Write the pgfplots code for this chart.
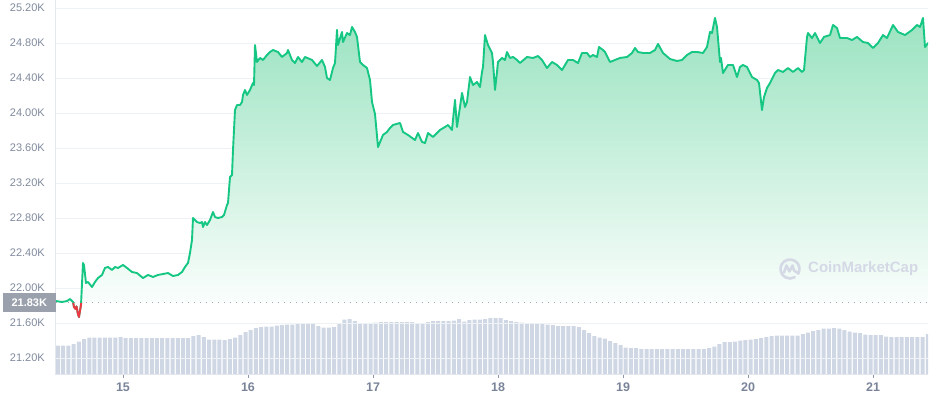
\documentclass[border=0pt]{standalone}
\usepackage{pgfplots}
\pgfplotsset{compat=1.18}
\usepackage{pgfplotstable}
\usepackage{fontspec}
\setmainfont{Liberation Sans}
\definecolor{cmcgreen}{HTML}{16C784}
\definecolor{cmcred}{HTML}{EA3943}
\definecolor{ticktext}{HTML}{808A9D}
\definecolor{xtickc}{HTML}{7A8499}
\definecolor{gridc}{HTML}{EFF2F5}
\definecolor{axisc}{HTML}{E3E6EC}
\definecolor{tickc}{HTML}{8D96A8}
\definecolor{volc}{HTML}{CFD6E4}
\definecolor{boxc}{HTML}{9AA0AC}
\definecolor{wm}{HTML}{D5D9E6}
\definecolor{dotc}{HTML}{A3A9B6}
\definecolor{fillc}{RGB}{155,227,193}

\pgfplotstableread{
x y
14.464 21.851
14.512 21.840
14.552 21.851
14.576 21.874
14.600 21.840
14.608 21.783
14.620 21.760
14.628 21.790
14.640 21.700
14.648 21.669
14.664 21.806
14.680 22.286
14.688 22.263
14.704 22.057
14.720 22.069
14.752 22.011
14.776 22.069
14.800 22.114
14.832 22.149
14.856 22.229
14.880 22.240
14.912 22.206
14.936 22.240
14.960 22.229
15.000 22.263
15.032 22.229
15.072 22.183
15.112 22.171
15.160 22.114
15.200 22.149
15.240 22.126
15.280 22.149
15.320 22.160
15.360 22.171
15.400 22.137
15.440 22.149
15.472 22.183
15.496 22.240
15.520 22.286
15.536 22.400
15.552 22.549
15.560 22.800
15.592 22.754
15.616 22.743
15.632 22.754
15.640 22.697
15.656 22.754
15.672 22.720
15.696 22.777
15.720 22.869
15.736 22.811
15.760 22.800
15.792 22.811
15.808 22.834
15.832 22.949
15.840 22.971
15.856 23.269
15.872 23.291
15.880 23.577
15.896 24.034
15.912 24.091
15.936 24.091
15.952 24.126
15.960 24.206
15.976 24.263
15.992 24.206
16.016 24.263
16.040 24.343
16.048 24.320
16.056 24.777
16.072 24.583
16.096 24.629
16.120 24.606
16.152 24.663
16.176 24.697
16.200 24.720
16.240 24.697
16.272 24.640
16.312 24.686
16.320 24.720
16.352 24.606
16.376 24.571
16.400 24.640
16.432 24.583
16.456 24.640
16.512 24.606
16.552 24.537
16.592 24.606
16.616 24.526
16.632 24.400
16.656 24.377
16.680 24.514
16.696 24.571
16.712 24.949
16.720 24.777
16.752 24.926
16.760 24.811
16.792 24.914
16.816 24.891
16.832 24.983
16.856 24.926
16.872 24.869
16.896 24.583
16.920 24.549
16.952 24.514
16.976 24.377
16.992 24.126
17.016 23.989
17.040 23.611
17.080 23.749
17.112 23.783
17.136 23.829
17.160 23.863
17.216 23.886
17.240 23.783
17.280 23.749
17.336 23.691
17.360 23.771
17.392 23.669
17.416 23.657
17.440 23.771
17.480 23.726
17.536 23.806
17.576 23.840
17.600 23.863
17.632 23.806
17.656 24.149
17.672 23.840
17.696 24.069
17.712 24.229
17.736 24.069
17.752 24.126
17.776 24.411
17.800 24.320
17.832 24.354
17.856 24.297
17.872 24.469
17.880 24.526
17.896 24.891
17.920 24.777
17.952 24.686
17.960 24.583
17.976 24.263
17.992 24.469
18.000 24.583
18.032 24.629
18.056 24.606
18.072 24.697
18.096 24.629
18.120 24.640
18.152 24.606
18.176 24.571
18.232 24.640
18.280 24.629
18.320 24.651
18.352 24.606
18.392 24.514
18.432 24.583
18.472 24.549
18.512 24.491
18.560 24.606
18.600 24.606
18.640 24.571
18.672 24.686
18.712 24.686
18.736 24.640
18.760 24.663
18.792 24.640
18.808 24.754
18.840 24.720
18.856 24.697
18.896 24.583
18.936 24.606
18.976 24.629
19.032 24.640
19.072 24.686
19.096 24.743
19.120 24.697
19.160 24.686
19.216 24.686
19.256 24.720
19.280 24.789
19.320 24.686
19.376 24.617
19.432 24.594
19.472 24.606
19.512 24.663
19.552 24.697
19.592 24.697
19.640 24.686
19.672 24.754
19.696 24.926
19.712 24.914
19.736 25.086
19.752 24.983
19.776 24.583
19.784 24.629
19.800 24.457
19.840 24.549
19.880 24.549
19.912 24.411
19.936 24.526
19.960 24.549
19.992 24.526
20.032 24.411
20.072 24.377
20.088 24.343
20.112 24.034
20.128 24.183
20.152 24.286
20.176 24.343
20.216 24.457
20.240 24.491
20.280 24.469
20.320 24.514
20.360 24.469
20.400 24.514
20.432 24.469
20.448 24.491
20.472 24.869
20.480 24.914
20.512 24.857
20.536 24.914
20.576 24.800
20.608 24.869
20.656 24.891
20.680 25.006
20.712 24.971
20.736 24.857
20.792 24.857
20.832 24.834
20.872 24.869
20.920 24.811
20.960 24.800
21.000 24.743
21.040 24.800
21.080 24.891
21.112 24.857
21.160 25.006
21.200 24.926
21.256 24.891
21.312 24.949
21.352 25.006
21.376 24.983
21.400 25.086
21.416 24.754
21.440 24.800
}\price

\pgfplotstableread{
v
28.5
28.5
28.5
30
32.5
35
36.5
36.5
36.5
36.5
36.5
36.5
37
36
36
36
36
36
36
36
36
36
36
36
36
36
38
39
37
34.5
34.5
34.5
34
35
36.5
39
42
44
46
47
47.5
47.5
48.5
49
49.5
49.5
50
50
50
50
48
46.5
46.5
47
51
54.5
55
53
51
50.5
50.5
51.5
52
52
52
52
52
52
52
51
51
52
53
53
53
53
53.5
55
52.5
54
54.5
54.5
55
56
56
56
54
53
52
51.5
51
51
50.5
50
49.5
49
48
48
48
48
47
44
41
38
36.5
35.5
33
31
29
26.5
26
26
25
25
25
25
25
25
25
25
25
25
25
25
25
26
27.5
30
32
32
32.5
33.5
34
34.5
35
36
37
38
38.5
38.5
38.5
38.5
38.5
40
41.5
43
44
45.5
45.5
46
45.5
44
42.5
41.5
41
39.5
39
39
39
37.5
37
37
37
37
37
37
37
40
}\volume

\newcommand{\yl}[1]{\fontsize{11}{13}\selectfont\color{ticktext}#1}
\newcommand{\xl}[1]{\fontsize{12.5}{14}\selectfont\bfseries\color{xtickc}#1}

\begin{document}
\begin{tikzpicture}
\path[use as bounding box] (0pt,0pt) rectangle (929pt,400pt);

% volume bars
\begin{axis}[
  at={(55pt,26pt)}, anchor=south west,
  width=873pt, height=374pt, scale only axis,
  xmin=14.456, xmax=21.44, ymin=0, ymax=374,
  hide axis, ybar, bar width=0.032, bar shift=0pt,
]
\addplot[fill=volc, draw=none] table[x expr=14.48+\coordindex/24, y=v] {\volume};
\end{axis}

% price
\begin{axis}[
  at={(55pt,26pt)}, anchor=south west,
  width=873pt, height=374pt, scale only axis,
  xmin=14.456, xmax=21.44, ymin=21.0171, ymax=25.2914,
  axis lines*=left,
  axis line style={draw=axisc, line width=0.8pt},
  xtick={15,16,17,18,19,20,21},
  xticklabels={\xl{15},\xl{16},\xl{17},\xl{18},\xl{19},\xl{20},\xl{21}},
  ytick={21.2,21.6,22.0,22.4,22.8,23.2,23.6,24.0,24.4,24.8,25.2},
  yticklabels={\yl{21.20K},\yl{21.60K},\yl{22.00K},\yl{22.40K},\yl{22.80K},\yl{23.20K},\yl{23.60K},\yl{24.00K},\yl{24.40K},\yl{24.80K},\yl{25.20K}},
  ymajorgrids, grid style={draw=gridc, line width=0.8pt},
  tick align=outside, major tick length=4pt,
  xtick style={draw=tickc, line width=0.8pt},
  ytick style={draw=none},
  xticklabel style={inner sep=0pt, yshift=-5pt},
  yticklabel style={inner sep=0pt, xshift=-6pt},
]
\addplot[draw=none, top color=fillc, bottom color=white] table[x=x,y=y] {\price}
  -- (axis cs:21.44,21.83) -- (axis cs:14.464,21.83) -- cycle;
\addplot[dotc, line width=1pt, dash pattern=on 1pt off 5pt] coordinates {(14.464,21.83) (21.44,21.83)};
\addplot[cmcgreen, line width=1.9pt, line join=round, line cap=round] table[x=x,y=y] {\price};
\addplot[cmcred, line width=1.9pt, line join=round] coordinates {(14.602,21.83) (14.608,21.783) (14.620,21.760) (14.628,21.790) (14.640,21.700) (14.648,21.669) (14.664,21.806) (14.666,21.83)};
\coordinate (base) at (axis cs:14.464,21.83);
\end{axis}

\node[fill=boxc, text=white, font=\bfseries\fontsize{11}{11}\selectfont, anchor=east,
      minimum width=53pt, minimum height=19pt, inner sep=0pt] at (base) {21.83K};

% watermark
\begin{scope}[shift={(790pt,131pt)}, draw=wm, line width=2.6pt, line cap=round, line join=round]
  \draw (-30:9.5pt) arc[start angle=-30, end angle=300, radius=9.5pt];
  \draw (-6pt,-3.5pt) -- (-3.5pt,3.5pt) -- (-0.5pt,-2.5pt) -- (2.5pt,3.5pt) -- (4pt,-1.5pt) -- (8pt,-4pt);
\end{scope}
\node[anchor=west, text=wm, font=\bfseries\fontsize{15}{15}\selectfont, inner sep=0pt] at (808pt,131pt) {CoinMarketCap};
\end{tikzpicture}
\end{document}
